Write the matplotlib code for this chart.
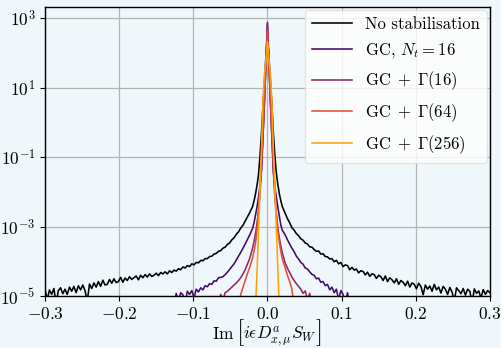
import numpy as np
import matplotlib
matplotlib.use("Agg")
import matplotlib.pyplot as plt
from matplotlib.ticker import FuncFormatter, FixedLocator

plt.rcParams['font.family'] = 'serif'
plt.rcParams['font.serif'] = ['cmr10']
plt.rcParams['mathtext.fontset'] = 'cm'
plt.rcParams['axes.unicode_minus'] = False

nan = float('nan')

# bin centres: fine in the middle, coarser in the tails
x_left = np.linspace(-0.300, -0.024, 93)
x_mid = np.linspace(-0.020, 0.020, 21)
x_right = np.linspace(0.024, 0.300, 93)

# log10 of the density
nostab_left = [-4.80, -5.10, -4.82, -4.95, -4.78, -5.20, -4.84, -4.76, -4.93, -4.80,
               -4.95, -4.74, -4.86, -4.72, -4.90, -4.70, -4.82, -4.68, -4.84, -5.15,
               -4.65, -4.78, -4.62, -4.74, -4.58, -4.72, -4.54, -4.68, -4.66, -4.52,
               -4.63, -4.50, -4.61, -4.58, -4.46, -4.60, -4.48, -4.55, -4.44, -4.52,
               -4.47, -4.42, -4.53, -4.40, -4.47, -4.38, -4.45, -4.36, -4.43, -4.40,
               -4.34, -4.41, -4.32, -4.36, -4.30, -4.36, -4.27, -4.32, -4.25, -4.28,
               -4.21, -4.24, -4.16, -4.19, -4.12, -4.15, -4.07, -4.10, -4.03, -4.04,
               -3.97, -3.98, -3.92, -3.92, -3.86, -3.85, -3.79, -3.77, -3.71, -3.69,
               -3.62, -3.59, -3.51, -3.47, -3.38, -3.32, -3.22, -3.15, -3.04, -2.96,
               -2.84, -2.72, -2.60]
nostab_mid = [-2.42, -2.25, -2.05, -1.80, -1.50, -0.95, -0.30, 0.50, 1.20, 1.90, 2.50,
              1.90, 1.20, 0.50, -0.30, -0.95, -1.45, -1.78, -2.05, -2.25, -2.42]
nostab_right = [-2.62, -2.77, -2.89, -3.03, -3.10, -3.20, -3.26, -3.35, -3.39, -3.47,
                -3.50, -3.58, -3.59, -3.66, -3.71, -3.70, -3.79, -3.78, -3.86, -3.87,
                -3.93, -3.92, -4.01, -3.97, -4.07, -4.03, -4.15, -4.10, -4.12, -4.24,
                -4.17, -4.25, -4.22, -4.33, -4.27, -4.29, -4.39, -4.31, -4.43, -4.36,
                -4.38, -4.49, -4.40, -4.44, -4.55, -4.42, -4.58, -4.47, -4.53, -4.62,
                -4.50, -4.66, -4.55, -4.60, -4.70, -4.57, -4.74, -4.62, -4.66, -4.79,
                -4.63, -4.72, -4.96, -4.68, -4.80, -4.71, -4.86, -4.66, -4.82, -4.74,
                -4.91, -4.72, -4.80, -4.95, -4.75, -4.88, -5.15, -4.76, -4.84, -4.93,
                -4.78, -4.97, -4.80, -4.86, -5.20, -4.79, -4.92, -4.85, -5.05, -4.81,
                -4.95, -4.84, -4.90]

gc_left = [nan] * 58 + [-5.30, -4.92, -5.15, -4.90, -4.96, -5.20, -4.86, -4.95, -4.84,
                        -5.05, -4.80, -4.88, -4.76, -4.82, -4.70, -4.73, -4.64, -4.66,
                        -4.56, -4.57, -4.47, -4.46, -4.44, -4.38, -4.31, -4.23, -4.15,
                        -4.07, -3.96, -3.85, -3.74, -3.62, -3.50, -3.37, -3.24]
gc_mid = [-3.05, -2.88, -2.65, -2.43, -2.15, -1.80, -1.40, -0.40, 0.60, 1.70, 2.85,
          1.70, 0.60, -0.40, -1.40, -1.85, -2.15, -2.43, -2.70, -2.95, -3.10]
gc_right = [-3.24, -3.38, -3.50, -3.62, -3.72, -3.85, -3.93, -4.03, -4.08, -4.19,
            -4.22, -4.30, -4.37, -4.40, -4.50, -4.48, -4.60, -4.58, -4.70, -4.66,
            -4.82, -4.74, -4.90, -4.80, -5.10, -4.84, -4.95, -5.20, -4.90, -5.30] + [nan] * 63

g16_left = [nan] * 78 + [-5.30, -4.95, -5.10, -4.90, -4.86, -4.80, -4.74, -4.68,
                         -4.62, -4.55, -4.47, -4.36, -4.24, -4.08, -3.92]
g16_mid = [-3.62, -3.42, -3.19, -2.90, -2.55, -2.05, -1.30, -0.40, 0.60, 1.75, 2.88,
           1.75, 0.60, -0.40, -1.40, -2.15, -2.65, -3.05, -3.32, -3.55, -3.75]
g16_right = [-4.05, -4.20, -4.32, -4.45, -4.55, -4.64, -4.72, -4.80, -4.92, -4.85,
             -5.10, -4.92, -5.30] + [nan] * 80

g64_left = [nan] * 87 + [-5.30, -4.95, -4.75, -4.55, -4.35, -4.18]
g64_mid = [-3.90, -3.70, -3.47, -3.05, -2.52, -1.85, -1.10, -0.20, 0.70, 1.70, 2.65,
           1.70, 0.70, -0.20, -1.10, -1.90, -2.65, -3.10, -3.45, -3.70, -3.92]
g64_right = [-4.20, -4.40, -4.58, -4.80, -5.30] + [nan] * 88

g256_left = [nan] * 93
g256_mid = [nan, nan, -5.30, -4.30, -3.10, -1.90, -0.70, 0.60, 1.40, 1.80, 2.32,
            1.80, 1.40, 0.60, -0.70, -1.90, -3.00, -4.20, -5.30, nan, nan]
g256_right = [nan] * 93

labels = ["No stabilisation", r"GC, $N_t=16$", r"$\mathrm{GC}\;+\;\Gamma(16)$",
          r"$\mathrm{GC}\;+\;\Gamma(64)$", r"$\mathrm{GC}\;+\;\Gamma(256)$"]
series = [(nostab_left, nostab_mid, nostab_right),
          (gc_left, gc_mid, gc_right),
          (g16_left, g16_mid, g16_right),
          (g64_left, g64_mid, g64_right),
          (g256_left, g256_mid, g256_right)]
colors = plt.cm.inferno(np.linspace(0, 0.8, 5))

bg = '#f0f7fa'
fig = plt.figure(figsize=(5.01, 3.48), dpi=100, facecolor=bg)
ax = fig.add_axes([0.0898, 0.149, 0.888, 0.831], facecolor=bg)

x = np.concatenate([x_left, x_mid, x_right])
for (l, m, r), c, lab in zip(series, colors, labels):
    y = 10 ** np.array(l + m + r, dtype=float)
    ax.plot(x, y, color=c, lw=1.15, label=lab)

ax.set_yscale('log')
ax.set_xlim(-0.3, 0.3)
ax.set_ylim(1e-5, 2.1e3)
ax.yaxis.set_major_locator(FixedLocator([1e-5, 1e-3, 1e-1, 1e1, 1e3]))
ax.yaxis.set_minor_locator(FixedLocator([]))
ax.yaxis.set_major_formatter(FuncFormatter(lambda v, p: r"$10^{%d}$" % round(np.log10(v))))
ax.set_xticks([-0.3, -0.2, -0.1, 0.0, 0.1, 0.2, 0.3])
ax.xaxis.set_major_formatter(FuncFormatter(lambda v, p: r"$%.1f$" % v))
ax.tick_params(labelsize=12.5, length=3.5, width=0.8, color='black')
ax.grid(True, color='#b4b4b4', lw=0.9)
ax.set_axisbelow(True)
for s in ax.spines.values():
    s.set_color('black')
    s.set_linewidth(1.0)

# x label in pieces so the brackets can be drawn larger (like \Big[ ... \Big])
yl = 0.026
fig.text(223 / 501, yl, r"$\mathrm{Im}$", fontsize=12.5, ha='center', va='baseline')
fig.text(240 / 501, yl, "[", fontsize=19, ha='center', va='baseline')
fig.text(280 / 501, yl, r"$i\epsilon D^a_{x,\mu} S_W$", fontsize=12.5, ha='center', va='baseline')
fig.text(319 / 501, yl, "]", fontsize=19, ha='center', va='baseline')

ax.legend(loc='upper right', fontsize=12, handlelength=2.4, labelspacing=0.55,
          borderaxespad=0.2, framealpha=0.8, edgecolor='#dddddd', fancybox=True)

fig.savefig("out.png", dpi=100, facecolor=bg)
